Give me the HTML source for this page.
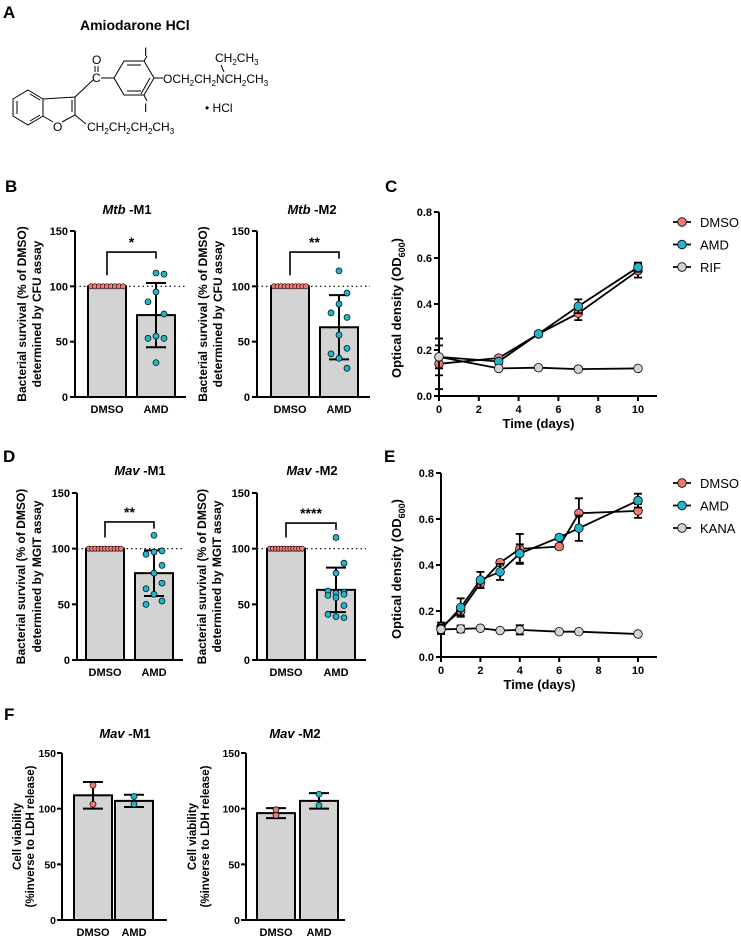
<!DOCTYPE html>
<html><head><meta charset="utf-8"><style>
body{margin:0;background:#fff;}
svg{display:block;font-family:"Liberation Sans",Arial,sans-serif;}
</style></head><body>
<svg id="fig" width="741" height="937" viewBox="0 0 741 937" xmlns="http://www.w3.org/2000/svg">
<g fill="none" stroke="#000" stroke-width="1">
<text x="3" y="18" font-size="17" font-weight="bold" fill="#000" stroke="none">A</text>
<text x="80" y="30" font-size="14" font-weight="bold" fill="#000" stroke="none">Amiodarone HCl</text>
<polygon points="28,90 43,99 43,116 28,125 13,116 13,99"/>
<line x1="17" y1="101" x2="17" y2="114"/><line x1="30" y1="94" x2="40" y2="100"/><line x1="30" y1="121" x2="40" y2="115"/>
<polyline points="43,99 75,97 75,115 62,122"/><line x1="43" y1="116" x2="53" y2="122"/><line x1="72" y1="100" x2="72" y2="112"/>
<text x="53" y="131" font-size="12" fill="#000" stroke="none">O</text>
<line x1="75" y1="97" x2="93" y2="80"/>
<text x="92" y="82" font-size="12" fill="#000" stroke="none">C</text>
<text x="92" y="64" font-size="12" fill="#000" stroke="none">O</text>
<line x1="95" y1="66" x2="95" y2="72"/><line x1="98" y1="66" x2="98" y2="72"/>
<line x1="101" y1="78" x2="114" y2="78"/>
<polygon points="114,78 124,61 144,61 154,78 144,95 124,95"/>
<line x1="127" y1="65" x2="141" y2="65"/><line x1="127" y1="91" x2="141" y2="91"/><line x1="150" y1="78" x2="141" y2="94"/>
<line x1="144" y1="61" x2="147" y2="56"/><line x1="144" y1="95" x2="147" y2="101"/>
<text x="144" y="56" font-size="12" fill="#000" stroke="none">I</text>
<text x="144" y="112" font-size="12" fill="#000" stroke="none">I</text>
<line x1="154" y1="78" x2="163" y2="78"/>
<g fill="#000" stroke="none" font-size="12">
<text x="163" y="83">OCH<tspan font-size="8" dy="3">2</tspan><tspan dy="-3">CH</tspan><tspan font-size="8" dy="3">2</tspan><tspan dy="-3">NCH</tspan><tspan font-size="8" dy="3">2</tspan><tspan dy="-3">CH</tspan><tspan font-size="8" dy="3">3</tspan></text>
<text x="215" y="62">CH<tspan font-size="8" dy="3">2</tspan><tspan dy="-3">CH</tspan><tspan font-size="8" dy="3">3</tspan></text>
<text x="205" y="112">• HCl</text>
<text x="87" y="131">CH<tspan font-size="8" dy="3">2</tspan><tspan dy="-3">CH</tspan><tspan font-size="8" dy="3">2</tspan><tspan dy="-3">CH</tspan><tspan font-size="8" dy="3">2</tspan><tspan dy="-3">CH</tspan><tspan font-size="8" dy="3">3</tspan></text>
</g>
<line x1="221" y1="65" x2="224" y2="72"/>
<line x1="75" y1="115" x2="86" y2="124"/>
</g>
<g id="charts"></g>
</svg>
<script>
// ===== Panel B (CFU) =====
const bCategories = ["DMSO","AMD"];
const bM1Means = [100, 74];
const bM1Sd = [0, 29];
const bM1Amd = [112,111,95,86,75,55,53,53,31];
const bM2Means = [100, 63];
const bM2Sd = [0, 29];
const bM2Amd = [114,94,84,76,72,56,44,39,35,26];
const bDmsoN = [9, 10];
// ===== Panel D (MGIT) =====
const dM1Means = [100, 78];
const dM1Sd = [0, 20.5];
const dM1Amd = [112,98,97,95,85,78,69,64,59,53,50];
const dM2Means = [100, 63];
const dM2Sd = [0, 20];
const dM2Amd = [110,87,78,62,61,60,59,58,56,49,41,39,38];
const dDmsoN = [11, 12];
// ===== Panel F (LDH) =====
const fM1Means = [112, 107];
const fM1Err = [12, 5.5];
const fM1Pts = [[121,104],[111,104]];
const fM2Means = [96, 107];
const fM2Err = [4.5, 7];
const fM2Pts = [[99,94],[113,103]];
const yTicks = [0,50,100,150];
// ===== Panel C =====
const cDays = [0,3,5,7,10];
const cDmso = [0.14,0.165,0.27,0.36,0.545];
const cDmsoErr = [0.11,0.01,0.01,0.03,0.03];
const cAmd = [0.17,0.15,0.27,0.39,0.56];
const cAmdErr = [0.08,0.01,0.01,0.03,0.02];
const cRif = [0.17,0.12,0.123,0.117,0.12];
const cRifErr = [0.05,0.005,0.005,0.005,0.005];
// ===== Panel E =====
const eDays = [0,1,2,3,4,6,7,10];
const eDmso = [0.13,0.2,0.32,0.41,0.47,0.48,0.625,0.635];
const eDmsoErr = [0.02,0.02,0.02,0.01,0.065,0.01,0.065,0.03];
const eAmd = [0.12,0.215,0.335,0.37,0.45,0.52,0.56,0.68];
const eAmdErr = [0.02,0.04,0.035,0.035,0.04,0.01,0.055,0.03];
const eKana = [0.12,0.122,0.125,0.115,0.118,0.11,0.11,0.1];
const eKanaErr = [0.015,0.015,0.005,0.005,0.02,0.005,0.005,0.005];
const odTicks = [0,0.2,0.4,0.6,0.8];
const dayTicks = [0,2,4,6,8,10];

const NS="http://www.w3.org/2000/svg";
const root=document.getElementById('charts');
const RED="#f07a76", CYAN="#1fb6cc", GREY="#d3d3d3";
function mk(tag,attrs,parent){const e=document.createElementNS(NS,tag);for(const k in attrs)e.setAttribute(k,attrs[k]);(parent||root).appendChild(e);return e;}
function txt(s,x,y,attrs,parent){const e=mk('text',Object.assign({x:x,y:y,'font-size':11,'font-weight':'bold','text-anchor':'middle',fill:'#000'},attrs||{}),parent);e.textContent=s;return e;}

function barChart(o){
  const g=mk('g',{});
  
  
  const ys=v=>o.y0+(o.y150-o.y0)*v/150;
  const ax=mk('line',{x1:o.ax,y1:o.y150,x2:o.ax,y2:o.y0+1,stroke:'#000','stroke-width':2},g);
  
  
  const xa=mk('line',{x1:o.ax-1,y1:o.y0,x2:o.axEnd,y2:o.y0,stroke:'#000','stroke-width':2},g);
  
  
  const gap=o.tickGap||7;
  yTicks.forEach(t=>{
    mk('line',{x1:o.ax-5,y1:ys(t),x2:o.ax,y2:ys(t),stroke:'#000','stroke-width':2},g);
    const tl=txt(String(t),o.ax-gap,ys(t)+4,{'text-anchor':'end','font-size':o.tickFs||11},g);
    
    
  });
  if(o.dotted){const dl=mk('line',{x1:o.ax,y1:ys(100),x2:o.axEnd,y2:ys(100),stroke:'#000','stroke-width':1.2,'stroke-dasharray':'1.5,3'},g);
    
    }
  o.means.forEach((m,i)=>{
    const bx=o.bars[i];
    const r=mk('rect',{x:bx,y:ys(m),width:o.bw,height:o.y0-ys(m),fill:GREY,stroke:'#000','stroke-width':2},g);
    
    
    const cx=bx+o.bw/2;
    const lab=txt(bCategories[i],cx,o.y0+16,{'font-size':11},g);
    
    
  });
  o.means.forEach((m,i)=>{
    const cx=o.bars[i]+o.bw/2;
    const e=o.err[i];
    if(e>0){
      const eb=mk('g',{stroke:'#000','stroke-width':2},g);
      
      
      mk('line',{x1:cx,y1:ys(m-e),x2:cx,y2:ys(m+e)},eb);
      mk('line',{x1:cx-o.cap,y1:ys(m-e),x2:cx+o.cap,y2:ys(m-e)},eb);
      mk('line',{x1:cx-o.cap,y1:ys(m+e),x2:cx+o.cap,y2:ys(m+e)},eb);
    }
  });
  if(o.dmsoN){
    const n=o.dmsoN,x0=o.bars[0]+3,x1=o.bars[0]+o.bw-3;
    for(let k=0;k<n;k++){const c=mk('circle',{cx:x0+(x1-x0)*k/(n-1),cy:ys(100),r:2.6,fill:RED,stroke:'#000','stroke-width':0.6},g);
      
      }
    const cx=o.bars[1]+o.bw/2;
    const offs=[-8,8,0,-8,8,0,8,-8,0,8,-8,0,8];
    o.amd.forEach((v,k)=>{const c=mk('circle',{cx:cx+(k===0?0:offs[k]),cy:ys(v),r:3,fill:CYAN,stroke:'#000','stroke-width':0.7},g);
      
      });
    const c0=o.bars[0]+o.bw/2,c1=cx;
    const br=mk('polyline',{points:`${c0},${ys(110)} ${c0},${ys(o.brY)} ${c1},${ys(o.brY)} ${c1},${ys(o.brY-6)}`,fill:'none',stroke:'#000','stroke-width':1.6},g);
    
    
    const st=txt(o.stars,(c0+c1)/2,ys(o.brY)-5,{'font-size':14},g);
    
    
  }
  if(o.pts){
    o.pts.forEach((arr,i)=>{const cx=o.bars[i]+o.bw/2;arr.forEach(v=>{
      const c=mk('circle',{cx:cx,cy:ys(v),r:3,fill:i===0?RED:CYAN,stroke:'#000','stroke-width':0.7},g);
      
      });});
  }
  const t=txt('',o.tx,o.ty,{'font-size':13},g);
  
  
  const ts1=document.createElementNS(NS,'tspan');ts1.setAttribute('font-style','italic');ts1.textContent=o.titleIt;t.appendChild(ts1);
  const ts2=document.createElementNS(NS,'tspan');ts2.textContent=' -'+o.titleRest;t.appendChild(ts2);
  const yc=(o.y0+o.y150)/2;
  o.ylab.forEach((s,k)=>{const l=txt(s,o.ylx[k],yc,{'font-size':o.ylfs||12,transform:`rotate(-90 ${o.ylx[k]} ${yc})`},g);
    
    });
}

const cfuLab=["Bacterial survival (% of DMSO)","determined by CFU assay"];
const mgitLab=["Bacterial survival (% of DMSO)","determined by MGIT assay"];
barChart({name:'chart-b-mtb-m1',ax:75,axEnd:186,y0:397,y150:231,bars:[88,137],bw:38,cap:10,means:bM1Means,err:bM1Sd,amd:bM1Amd,dmsoN:bDmsoN[0],dotted:true,brY:131,stars:'*',tx:127,ty:214,titleIt:'Mtb',titleRest:'M1',ylab:cfuLab,ylx:[26,41]});
barChart({name:'chart-b-mtb-m2',ax:257,axEnd:370,y0:397,y150:231,bars:[271,320],bw:38,cap:10,means:bM2Means,err:bM2Sd,amd:bM2Amd,dmsoN:bDmsoN[1],dotted:true,brY:131,stars:'**',tx:312,ty:214,titleIt:'Mtb',titleRest:'M2',ylab:cfuLab,ylx:[207,222]});
barChart({name:'chart-d-mav-m1',ax:77,axEnd:183,y0:660,y150:493,bars:[86,135],bw:38,cap:10,means:dM1Means,err:dM1Sd,amd:dM1Amd,dmsoN:dDmsoN[0],dotted:true,brY:124,stars:'**',tx:140,ty:475,titleIt:'Mav',titleRest:'M1',ylab:mgitLab,ylx:[25,41]});
barChart({name:'chart-d-mav-m2',ax:257,axEnd:366,y0:660,y150:493,bars:[267,317],bw:38,cap:10,means:dM2Means,err:dM2Sd,amd:dM2Amd,dmsoN:dDmsoN[1],dotted:true,brY:123,stars:'****',tx:312,ty:475,titleIt:'Mav',titleRest:'M2',ylab:mgitLab,ylx:[206,221]});
const ldhLab=["Cell viability","(%inverse to LDH release)"];
barChart({name:'chart-f-mav-m1',ax:62,axEnd:167,y0:920,y150:753,bars:[74,115],bw:38,cap:10,means:fM1Means,err:fM1Err,pts:fM1Pts,tx:125,ty:738,titleIt:'Mav',titleRest:'M1',ylab:ldhLab,ylx:[21,34],ylfs:11.5,tickGap:6,tickFs:10.5});
barChart({name:'chart-f-mav-m2',ax:246,axEnd:345,y0:920,y150:753,bars:[257,300],bw:38,cap:10,means:fM2Means,err:fM2Err,pts:fM2Pts,tx:295,ty:738,titleIt:'Mav',titleRest:'M2',ylab:ldhLab,ylx:[196,209],ylfs:11.5,tickGap:6,tickFs:10.5});

function lineChart(o){
  const g=mk('g',{});
  
  
  const xs=d=>o.ax+(o.x10-o.ax)*d/10;
  const ys=v=>o.y0+(o.y08-o.y0)*v/0.8;
  const ya=mk('line',{x1:o.ax,y1:o.y08,x2:o.ax,y2:o.y0+1,stroke:'#000','stroke-width':2},g);
  
  
  const xa=mk('line',{x1:o.ax-1,y1:o.y0,x2:o.axEnd,y2:o.y0,stroke:'#000','stroke-width':2},g);
  
  
  odTicks.forEach(t=>{mk('line',{x1:o.ax-5,y1:ys(t),x2:o.ax,y2:ys(t),stroke:'#000','stroke-width':2},g);
    const l=txt(t.toFixed(1),o.ax-7,ys(t)+4,{'text-anchor':'end'},g);
    
    });
  dayTicks.forEach(t=>{mk('line',{x1:xs(t),y1:o.y0,x2:xs(t),y2:o.y0+5,stroke:'#000','stroke-width':2},g);
    const l=txt(String(t),xs(t),o.y0+17,{},g);
    
    });
  const xt=txt('Time (days)',(o.ax+o.x10)/2,o.y0+32,{'font-size':13},g);
  
  
  const yc=(o.y0+o.y08)/2+4;
  const yl=mk('text',{x:o.ylx,y:yc,'font-size':13,'font-weight':'bold','text-anchor':'middle',transform:`rotate(-90 ${o.ylx} ${yc})`},g);
  
  
  yl.appendChild(document.createTextNode('Optical density (OD'));
  const sb=document.createElementNS(NS,'tspan');sb.setAttribute('font-size','9');sb.setAttribute('dy','4');sb.textContent='600';yl.appendChild(sb);
  const cl=document.createElementNS(NS,'tspan');cl.setAttribute('dy','-4');cl.textContent=')';yl.appendChild(cl);
  o.series.forEach((s,si)=>{
    const sg=mk('g',{},g);
    
    
    mk('polyline',{points:o.days.map((d,i)=>xs(d)+','+ys(s.vals[i])).join(' '),fill:'none',stroke:'#000','stroke-width':1.8},sg);
    o.days.forEach((d,i)=>{const e=s.err[i];if(e>0.008){
      mk('line',{x1:xs(d),y1:ys(s.vals[i]-e),x2:xs(d),y2:ys(s.vals[i]+e),stroke:'#000','stroke-width':1.8},sg);
      [-e,e].forEach(q=>mk('line',{x1:xs(d)-4,y1:ys(s.vals[i]+q),x2:xs(d)+4,y2:ys(s.vals[i]+q),stroke:'#000','stroke-width':1.8},sg));}});
    o.days.forEach((d,i)=>{const c=mk('circle',{cx:xs(d),cy:ys(s.vals[i]),r:4.3,fill:s.color,stroke:'#000','stroke-width':0.8},sg);
      
      });
    const lg=mk('g',{},g);
    
    
    const ly=o.legY+si*22.5;
    mk('line',{x1:673,y1:ly,x2:691,y2:ly,stroke:'#000','stroke-width':1.8},lg);
    mk('circle',{cx:682,cy:ly,r:4.3,fill:s.color,stroke:'#000','stroke-width':0.8},lg);
    txt(s.label,700,ly+5,{'text-anchor':'start','font-weight':'normal','font-size':13},lg);
  });
}
lineChart({name:'chart-c-growth',ax:439,axEnd:657,x10:638,y0:396,y08:212,ylx:401,legY:222,days:cDays,series:[
  {label:'DMSO',vals:cDmso,err:cDmsoErr,color:RED},{label:'AMD',vals:cAmd,err:cAmdErr,color:CYAN},{label:'RIF',vals:cRif,err:cRifErr,color:GREY}]});
lineChart({name:'chart-e-growth',ax:441,axEnd:657,x10:638,y0:657,y08:473,ylx:401,legY:483,days:eDays,series:[
  {label:'DMSO',vals:eDmso,err:eDmsoErr,color:RED},{label:'AMD',vals:eAmd,err:eAmdErr,color:CYAN},{label:'KANA',vals:eKana,err:eKanaErr,color:GREY}]});

[['B',5,192],['C',385,192],['D',3,462],['E',384,462],['F',4,720]].forEach(p=>{
  const l=txt(p[0],p[1],p[2],{'font-size':17,'text-anchor':'start'});
  
  
});
</script>
</body></html>
